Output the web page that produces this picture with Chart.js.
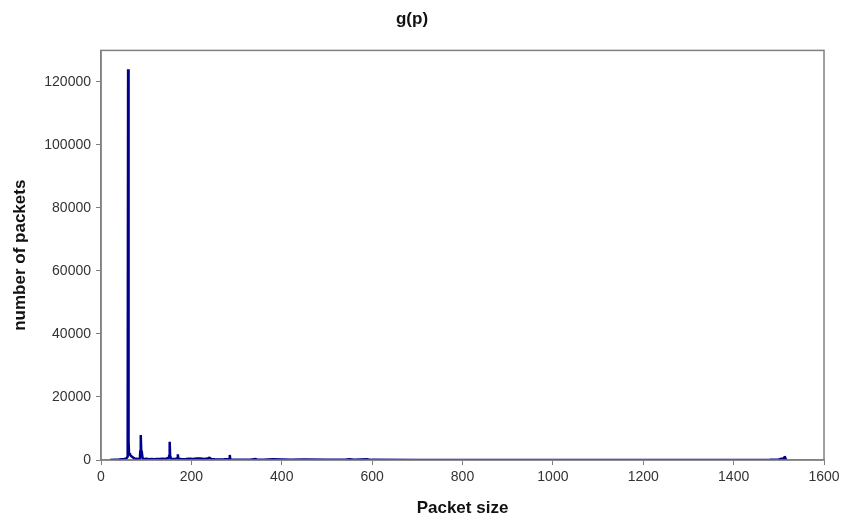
<!DOCTYPE html>
<html>
<head>
<meta charset="utf-8">
<script src="https://cdn.jsdelivr.net/npm/chart.js@4.4.0/dist/chart.umd.min.js"></script>
<style>
  html, body { margin: 0; padding: 0; background: #fff; }
  #wrap { width: 841px; height: 519px; }
</style>
</head>
<body>
<div id="wrap"><canvas id="chart-area" width="841" height="519"></canvas></div>
<script>
// packet size histogram
const packetSizes = [20, 40, 52, 56, 58, 59, 60, 61, 62, 64, 66, 68, 70, 72, 74, 78, 82, 86, 87, 88, 89, 90, 92, 93, 94, 95, 96, 100, 106, 112, 118, 124, 130, 136, 142, 146, 150, 151, 152, 153, 154, 156, 160, 166, 169, 170, 171, 174, 180, 188, 196, 204, 212, 220, 228, 236, 240, 244, 252, 262, 272, 284, 285, 286, 287, 290, 310, 330, 343, 344, 360, 380, 420, 450, 500, 540, 550, 560, 590, 600, 700, 800, 900, 1000, 1100, 1200, 1300, 1400, 1480, 1500, 1506, 1510, 1512, 1513, 1514, 1515, 1518];
const packetCounts = [0, 150, 300, 500, 900, 6000, 124000, 6000, 2200, 1700, 1400, 1100, 900, 700, 500, 400, 300, 350, 3000, 7900, 3000, 2900, 600, 400, 300, 250, 300, 400, 250, 300, 250, 350, 300, 400, 300, 500, 700, 1500, 5800, 1200, 500, 300, 300, 400, 600, 1800, 500, 300, 250, 300, 400, 300, 450, 500, 350, 500, 700, 300, 200, 150, 200, 300, 1600, 300, 150, 100, 100, 80, 300, 80, 60, 200, 60, 150, 60, 100, 250, 60, 200, 40, 30, 30, 30, 30, 30, 30, 30, 30, 60, 150, 400, 300, 900, 1200, 700, 100, 0];
const xTicks = [0, 200, 400, 600, 800, 1000, 1200, 1400, 1600];
const yTicks = [0, 20000, 40000, 60000, 80000, 100000, 120000];

const frame = {
  id: 'frame',
  afterDraw(chart) {
    const a = chart.chartArea, c = chart.ctx;
    c.save();
    c.strokeStyle = '#808080';
    c.lineWidth = 1.5;
    c.strokeRect(a.left, a.top, a.right - a.left, a.bottom - a.top);
    c.restore();
  }
};

window.onload = function() {
  let ctx = document.getElementById('chart-area').getContext('2d');
  new Chart(ctx, {
    type: 'line',
    data: {
      datasets: [{
        data: packetSizes.map((s, i) => ({x: s, y: packetCounts[i]})),
        borderColor: '#00008b',
        borderWidth: 2.5,
        borderJoinStyle: 'bevel',
        pointRadius: 0,
        tension: 0,
        fill: false
      }]
    },
    options: {
      responsive: false,
      animation: false,
      layout: { padding: { left: 0, right: 17, top: 0, bottom: 0 } },
      plugins: {
        legend: { display: false },
        tooltip: { enabled: false },
        title: {
          display: true,
          text: 'g(p)',
          color: '#111',
          font: { family: 'Liberation Sans', size: 17, weight: 'bold' },
          padding: { top: 9, bottom: 21 }
        }
      },
      scales: {
        x: {
          type: 'linear',
          min: 0, max: 1600,
          afterBuildTicks: s => { s.ticks = xTicks.map(v => ({value: v})); },
          afterFit: s => { s.height = 59; s.paddingLeft = 0; s.paddingRight = 0; },
          grid: { drawOnChartArea: false, drawTicks: true, tickLength: 5, color: '#808080' },
          border: { color: '#808080', width: 1.5 },
          ticks: { color: '#333', font: { family: 'Liberation Sans', size: 14 }, padding: 4, maxRotation: 0,
                   callback: v => String(v) },
          title: {
            display: true, text: 'Packet size', color: '#111',
            font: { family: 'Liberation Sans', size: 17, weight: 'bold' },
            padding: { top: 10, bottom: 0 }
          }
        },
        y: {
          min: 0, max: 130000,
          afterBuildTicks: s => { s.ticks = yTicks.map(v => ({value: v})); },
          afterFit: s => { s.width = 101; },
          grid: { drawOnChartArea: false, drawTicks: true, tickLength: 5, color: '#808080' },
          border: { color: '#808080', width: 1.5 },
          ticks: { color: '#333', font: { family: 'Liberation Sans', size: 14 }, padding: 5,
                   callback: v => String(v) },
          title: {
            display: true, text: 'number of packets', color: '#111',
            font: { family: 'Liberation Sans', size: 17, weight: 'bold' },
            padding: { top: 10, bottom: 4 }
          }
        }
      }
    },
    plugins: [frame]
  });
};
</script>
</body>
</html>
